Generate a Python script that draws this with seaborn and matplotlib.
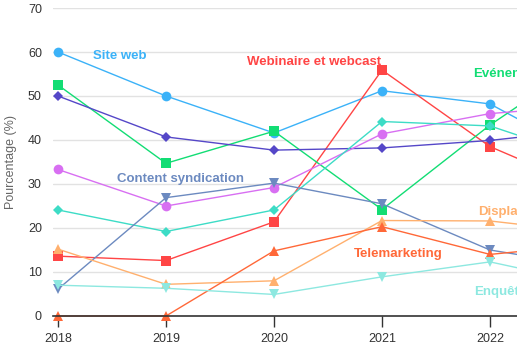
import matplotlib
matplotlib.use("Agg")
import matplotlib.pyplot as plt
import seaborn as sns
import pandas as pd

years = [2018, 2019, 2020, 2021, 2022, 2023]

site_web = [60.0, 50.0, 41.6, 51.2, 48.2, 35.0]
webinaire = [13.6, 12.6, 21.4, 55.9, 38.5, 28.0]
evenements = [52.5, 34.7, 42.0, 24.2, 43.4, 60.0]
email = [50.0, 40.7, 37.7, 38.2, 39.9, 42.6]
reseaux = [33.3, 25.0, 29.2, 41.4, 46.0, 48.0]
salons = [24.1, 19.2, 24.1, 44.2, 43.2, 35.0]
content_synd = [6.1, 26.9, 30.2, 25.5, 15.0, 11.0]
display = [15.2, 7.2, 8.0, 21.7, 21.6, 18.8]
telemarketing = [0.0, 0.0, 14.8, 20.3, 14.0, 16.4]
enquetes = [7.0, 6.3, 4.9, 8.9, 12.3, 7.0]

series = {
    "Site web": site_web,
    "Webinaire et webcast": webinaire,
    "Evénements": evenements,
    "Email": email,
    "Réseaux sociaux": reseaux,
    "Salons": salons,
    "Content syndication": content_synd,
    "Display": display,
    "Telemarketing": telemarketing,
    "Enquêtes": enquetes,
}

colors = {
    "Site web": "#3bb2f8",
    "Webinaire et webcast": "#ff4545",
    "Evénements": "#12dd74",
    "Email": "#5547c8",
    "Réseaux sociaux": "#d86ff2",
    "Salons": "#3ddcc6",
    "Content syndication": "#6c8ac0",
    "Display": "#ffb06e",
    "Telemarketing": "#ff6838",
    "Enquêtes": "#8de8e0",
}
markers = {
    "Site web": "o",
    "Webinaire et webcast": "s",
    "Evénements": "s",
    "Email": "D",
    "Réseaux sociaux": "o",
    "Salons": "D",
    "Content syndication": "v",
    "Display": "^",
    "Telemarketing": "^",
    "Enquêtes": "v",
}
sizes = {"o": 7, "s": 7, "D": 5, "v": 7, "^": 7}

# étiquettes (texte, x, y en données)
labels = [
    ("Site web", 2018.32, 59.2),
    ("Webinaire et webcast", 2019.75, 57.8),
    ("Evénements", 2021.84, 55.0),
    ("Content syndication", 2018.55, 31.2),
    ("Display", 2021.89, 23.6),
    ("Telemarketing", 2020.74, 14.1),
    ("Enquêtes", 2021.85, 5.5),
]

df = pd.DataFrame(
    [(name, y, v) for name, vals in series.items() for y, v in zip(years, vals)],
    columns=["canal", "annee", "pct"],
)

sns.set_theme(style="white")
plt.rcParams["font.family"] = ["Liberation Sans", "DejaVu Sans"]

fig = plt.figure(figsize=(5.17, 3.58), dpi=100)
ax = fig.add_axes([53 / 517, 1 - 316 / 358, 1 - 53 / 517, (316 - 8) / 358])

for name in series:
    sub = df[df["canal"] == name]
    m = markers[name]
    sns.lineplot(data=sub, x="annee", y="pct", ax=ax, color=colors[name],
                 marker=m, markersize=sizes[m], markeredgewidth=0,
                 linewidth=1.0, legend=False, clip_on=False)

for text, x, y in labels:
    ax.text(x, y, text, color=colors[text], fontsize=9.5, fontweight="bold",
            ha="left", va="center", clip_on=False)

ax.set_xlim(2018 - 5 / 108, 2022 + 27 / 108)
ax.set_ylim(0, 70)
ax.set_yticks(range(0, 71, 10))
ax.set_xticks(years[:5])
ax.set_xticklabels([str(y) for y in years[:5]])
ax.grid(axis="y", color="#e2e2e2", linewidth=1)
ax.set_axisbelow(True)
for s in ["left", "right", "top"]:
    ax.spines[s].set_visible(False)
ax.spines["bottom"].set_color("#333333")
ax.spines["bottom"].set_linewidth(1.2)
ax.tick_params(axis="x", bottom=True, length=8, width=1, color="#333333",
               labelsize=9, labelcolor="#333333", pad=4)
ax.tick_params(axis="y", left=False, labelsize=9, labelcolor="#333333", pad=2)
ax.set_xlabel("")
ax.set_ylabel("Pourcentage (%)", fontsize=9, color="#666666", labelpad=8)

fig.savefig("out.png", dpi=100)
